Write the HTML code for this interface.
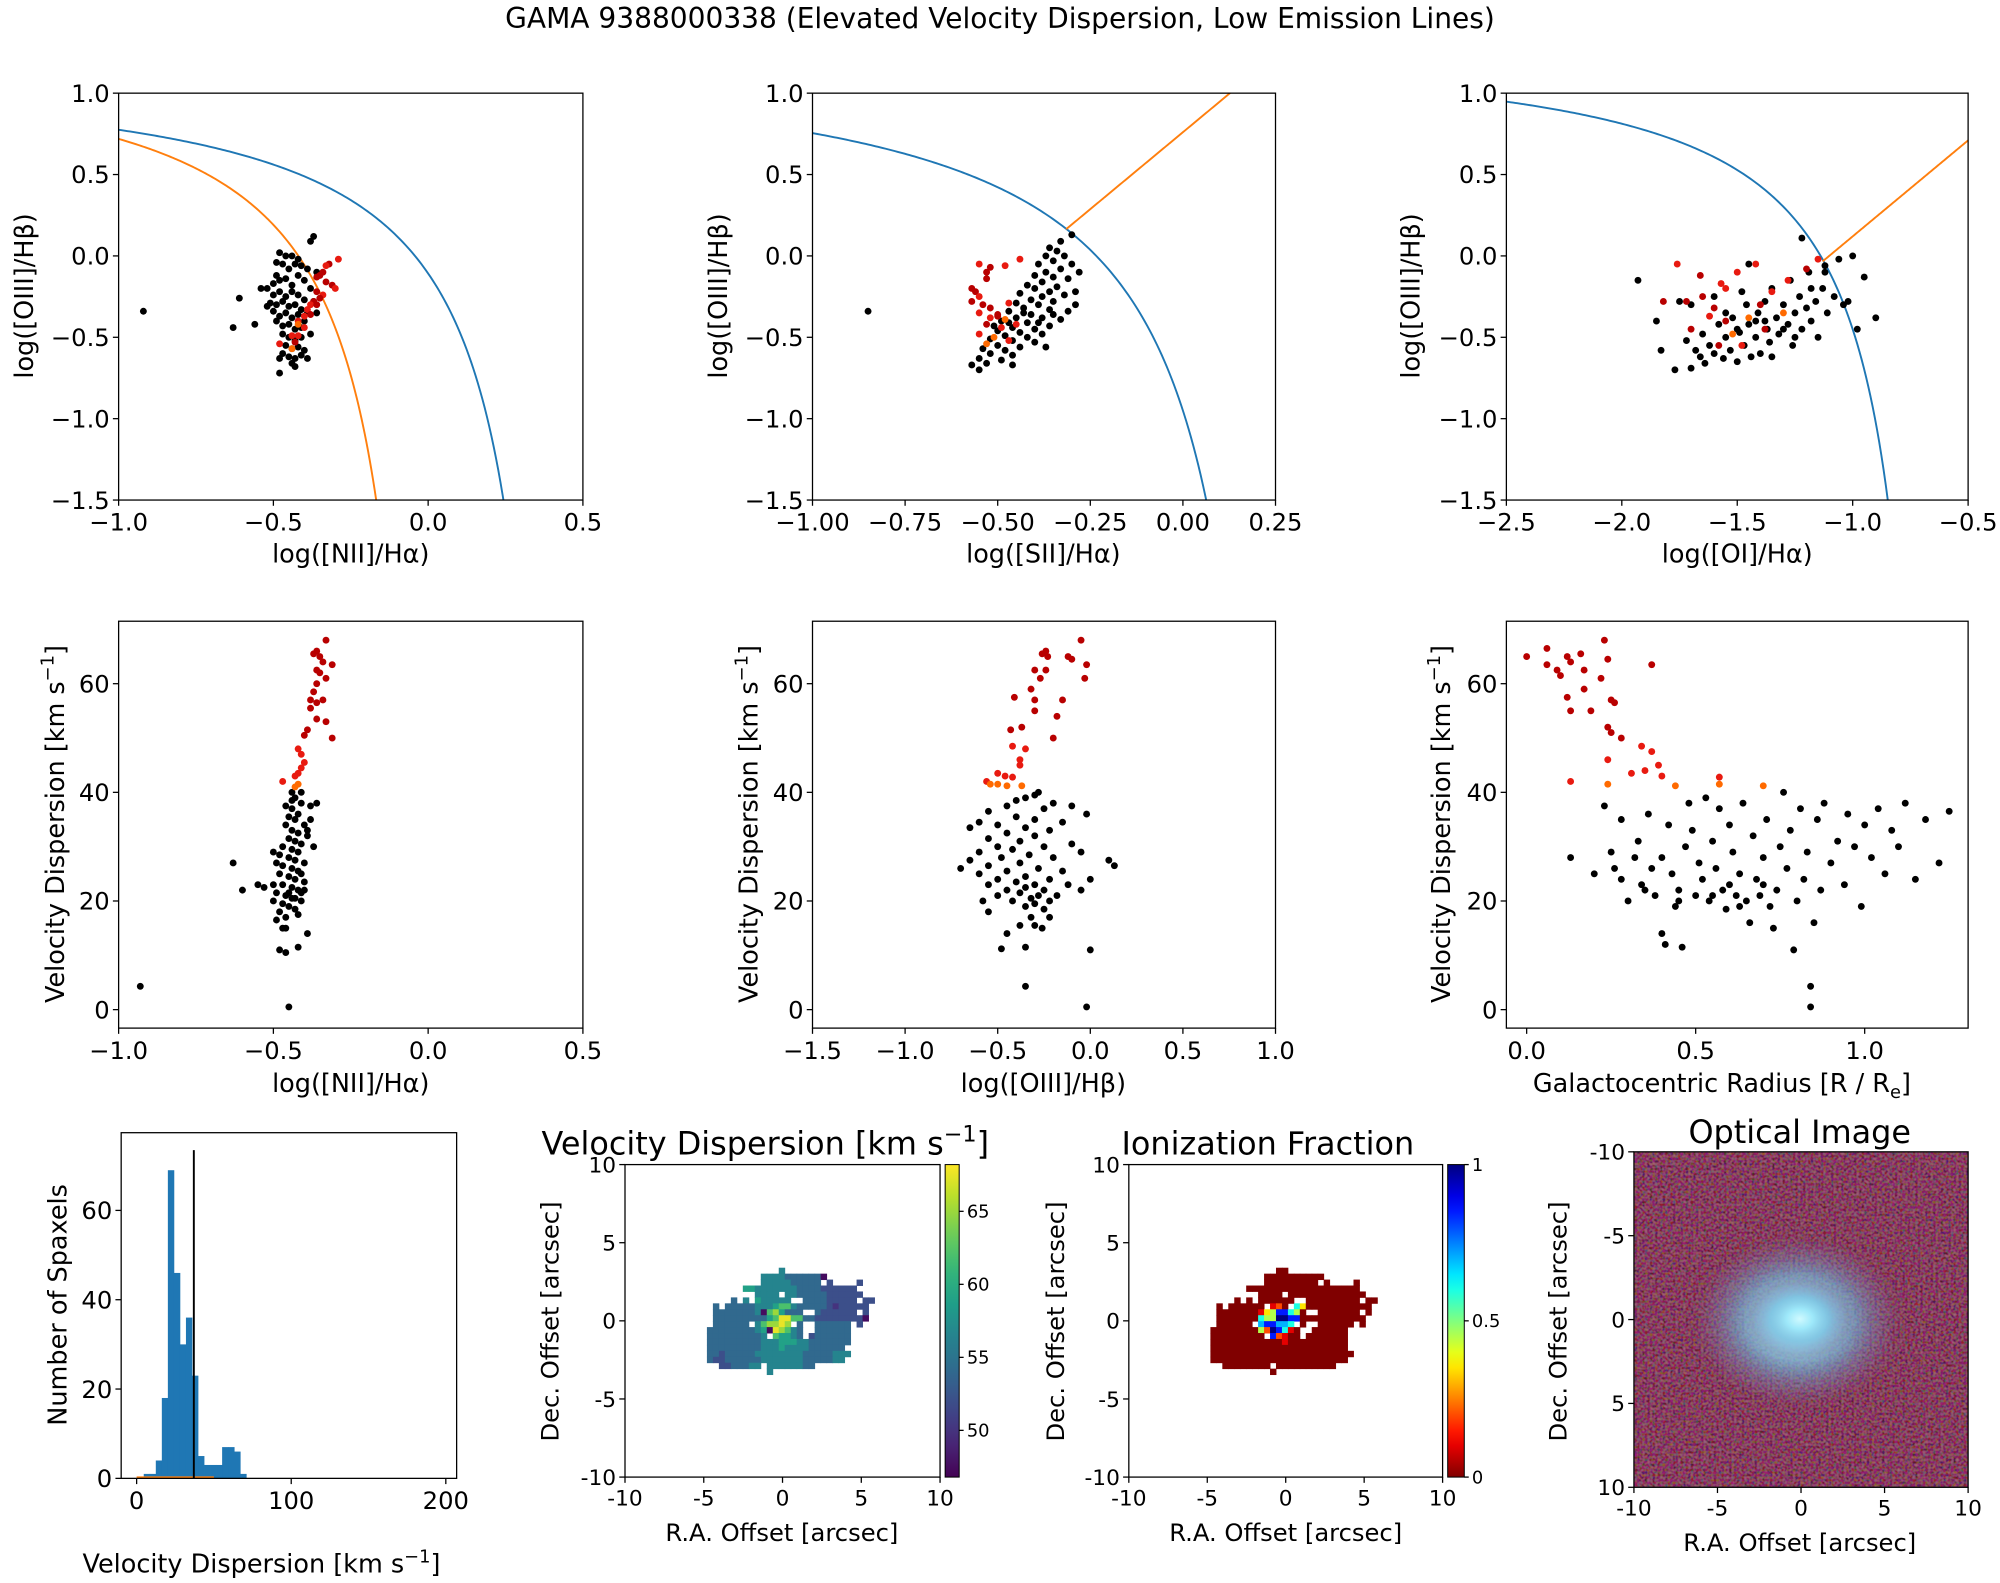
<!DOCTYPE html>
<html><head><meta charset="utf-8"><title>GAMA 9388000338</title>
<style>
html,body{margin:0;padding:0;background:#fff;width:2000px;height:1583px;overflow:hidden;}
svg{display:block;font-family:"DejaVu Sans","Liberation Sans",sans-serif;}
</style></head>
<body>
<svg id="fig" xmlns="http://www.w3.org/2000/svg" width="2000" height="1583" viewBox="0 0 1568 1241">
<defs>
<filter id="noise" x="0" y="0" width="100%" height="100%">
<feTurbulence type="fractalNoise" baseFrequency="0.5" numOctaves="1" seed="3" result="t"/>
<feColorMatrix in="t" type="matrix" values="1.4 0 0 0 -0.4  0 1.2 0 0 -0.5  0 0 1.4 0 -0.45  0 0 0 0 0.4"/>
</filter>
<radialGradient id="galaxy" cx="0.5" cy="0.5" r="0.5">
<stop offset="0" stop-color="#d0faff" stop-opacity="1"/>
<stop offset="0.25" stop-color="#9ce8fa" stop-opacity="0.95"/>
<stop offset="0.55" stop-color="#70b4d8" stop-opacity="0.6"/>
<stop offset="0.8" stop-color="#7a7fae" stop-opacity="0.25"/>
<stop offset="1" stop-color="#7a3040" stop-opacity="0"/>
</radialGradient>
</defs>
<text x="784" y="22" font-size="22" text-anchor="middle">GAMA 9388000338 (Elevated Velocity Dispersion, Low Emission Lines)</text>
</svg>
<script>
// ---------- DATA ----------
const niiBlackX=[-0.48,-0.46,-0.44,-0.38,-0.37,-0.42,-0.47,-0.49,-0.45,-0.41,-0.39,-0.36,-0.48,-0.5,-0.46,-0.44,-0.42,-0.4,-0.38,-0.52,-0.5,-0.48,-0.46,-0.44,-0.42,-0.4,-0.51,-0.49,-0.47,-0.45,-0.43,-0.41,-0.39,-0.5,-0.48,-0.46,-0.44,-0.42,-0.4,-0.49,-0.47,-0.45,-0.43,-0.41,-0.38,-0.47,-0.45,-0.43,-0.41,-0.46,-0.44,-0.42,-0.4,-0.47,-0.45,-0.43,-0.41,-0.44,-0.43,-0.48,-0.48,-0.39,-0.92,-0.63,-0.61,-0.56,-0.54,-0.52,-0.49,-0.43,-0.37,-0.36];
const niiBlackY=[0.02,0.0,0.0,0.09,0.12,-0.02,-0.05,-0.04,-0.08,-0.06,-0.08,-0.1,-0.15,-0.17,-0.14,-0.18,-0.12,-0.15,-0.2,-0.2,-0.24,-0.22,-0.25,-0.22,-0.24,-0.27,-0.29,-0.3,-0.28,-0.31,-0.3,-0.33,-0.35,-0.34,-0.37,-0.35,-0.38,-0.36,-0.4,-0.4,-0.43,-0.42,-0.45,-0.44,-0.48,-0.48,-0.5,-0.52,-0.5,-0.55,-0.57,-0.56,-0.58,-0.6,-0.62,-0.63,-0.61,-0.66,-0.68,-0.63,-0.72,-0.63,-0.34,-0.44,-0.26,-0.42,-0.2,-0.31,-0.12,-0.05,-0.28,-0.35];
const niiRedX=[-0.29,-0.32,-0.33,-0.34,-0.36,-0.35,-0.33,-0.31,-0.3,-0.36,-0.34,-0.35,-0.37,-0.38,-0.36,-0.39,-0.38,-0.4,-0.42,-0.42,-0.4,-0.42,-0.44,-0.48,-0.43,-0.44];
const niiRedY=[-0.02,-0.05,-0.06,-0.1,-0.13,-0.12,-0.16,-0.18,-0.2,-0.22,-0.24,-0.26,-0.28,-0.3,-0.3,-0.33,-0.36,-0.37,-0.4,-0.42,-0.44,-0.49,-0.49,-0.54,-0.53,-0.57];
const niiRedShade="rdrdddddrdrddrdrdrrorrrrdo";

const siiBlackX=[-0.3,-0.33,-0.36,-0.34,-0.37,-0.32,-0.35,-0.39,-0.3,-0.33,-0.37,-0.4,-0.35,-0.31,-0.38,-0.42,-0.34,-0.4,-0.36,-0.44,-0.32,-0.38,-0.41,-0.35,-0.45,-0.39,-0.43,-0.36,-0.31,-0.47,-0.41,-0.38,-0.45,-0.33,-0.49,-0.42,-0.36,-0.46,-0.4,-0.5,-0.44,-0.38,-0.48,-0.42,-0.52,-0.46,-0.4,-0.5,-0.44,-0.54,-0.48,-0.37,-0.52,-0.46,-0.55,-0.49,-0.53,-0.57,-0.55,-0.46,-0.28,-0.29,-0.29,-0.85,-0.51,-0.43,-0.47,-0.39,-0.35];
const siiBlackY=[0.13,0.09,0.05,0.03,0.0,0.0,-0.03,-0.05,-0.05,-0.08,-0.1,-0.12,-0.13,-0.14,-0.16,-0.18,-0.19,-0.2,-0.22,-0.23,-0.24,-0.25,-0.27,-0.28,-0.29,-0.3,-0.32,-0.33,-0.34,-0.34,-0.36,-0.38,-0.38,-0.39,-0.4,-0.41,-0.43,-0.44,-0.45,-0.46,-0.47,-0.48,-0.49,-0.5,-0.51,-0.52,-0.53,-0.55,-0.56,-0.57,-0.58,-0.56,-0.6,-0.61,-0.63,-0.64,-0.66,-0.67,-0.7,-0.67,-0.1,-0.22,-0.3,-0.34,-0.43,-0.35,-0.41,-0.41,-0.36];
const siiRedX=[-0.55,-0.52,-0.48,-0.44,-0.53,-0.53,-0.57,-0.56,-0.55,-0.57,-0.54,-0.52,-0.55,-0.5,-0.52,-0.48,-0.53,-0.49,-0.55,-0.51,-0.47,-0.53,-0.5,-0.47,-0.45];
const siiRedY=[-0.05,-0.07,-0.06,-0.02,-0.1,-0.14,-0.2,-0.22,-0.25,-0.28,-0.3,-0.32,-0.35,-0.36,-0.38,-0.39,-0.42,-0.44,-0.48,-0.5,-0.52,-0.54,-0.37,-0.29,-0.42];
const siiRedShade="rdrrddddrdddrdrodrrorodrr";

const oiBlackX=[-1.93,-1.85,-1.83,-1.77,-1.75,-1.72,-1.7,-1.68,-1.66,-1.64,-1.62,-1.6,-1.58,-1.56,-1.55,-1.53,-1.52,-1.5,-1.49,-1.47,-1.46,-1.45,-1.44,-1.42,-1.41,-1.4,-1.38,-1.37,-1.36,-1.35,-1.33,-1.32,-1.3,-1.28,-1.27,-1.26,-1.25,-1.23,-1.22,-1.2,-1.19,-1.18,-1.16,-1.15,-1.13,-1.12,-1.11,-1.08,-1.06,-1.04,-1.02,-1.0,-0.98,-0.95,-0.9,-1.22,-1.12,-1.45,-1.6,-1.48,-1.35,-1.65,-1.42,-1.3,-1.55,-1.25,-1.38,-1.5,-1.18,-1.7];
const oiBlackY=[-0.15,-0.4,-0.58,-0.7,-0.28,-0.52,-0.69,-0.58,-0.62,-0.66,-0.55,-0.6,-0.42,-0.63,-0.5,-0.58,-0.38,-0.65,-0.47,-0.55,-0.3,-0.42,-0.62,-0.5,-0.35,-0.6,-0.28,-0.45,-0.53,-0.2,-0.38,-0.48,-0.3,-0.42,-0.15,-0.55,-0.35,-0.25,-0.45,-0.32,-0.1,-0.4,-0.28,-0.5,-0.2,-0.06,-0.35,-0.25,-0.02,-0.3,-0.28,0.0,-0.45,-0.13,-0.38,0.11,-0.1,-0.05,-0.25,-0.22,-0.62,-0.48,-0.4,-0.45,-0.35,-0.5,-0.4,-0.45,-0.2,-0.3];
const oiRedX=[-1.76,-1.66,-1.57,-1.5,-1.42,-1.72,-1.65,-1.6,-1.55,-1.7,-1.62,-1.52,-1.58,-1.48,-1.45,-1.4,-1.35,-1.28,-1.2,-1.15,-1.38,-1.55,-1.82,-1.3];
const oiRedY=[-0.05,-0.12,-0.17,-0.1,-0.05,-0.28,-0.25,-0.32,-0.2,-0.45,-0.37,-0.48,-0.55,-0.55,-0.38,-0.3,-0.22,-0.15,-0.08,-0.02,-0.45,-0.4,-0.28,-0.35];
const oiRedShade="rdrrrdddrdrodrodrrdrdddo";

const sigNiiBlackX=[-0.44,-0.43,-0.41,-0.46,-0.44,-0.42,-0.38,-0.45,-0.43,-0.4,-0.46,-0.44,-0.42,-0.45,-0.43,-0.41,-0.47,-0.44,-0.42,-0.48,-0.45,-0.43,-0.4,-0.47,-0.44,-0.42,-0.48,-0.45,-0.43,-0.4,-0.47,-0.44,-0.42,-0.49,-0.46,-0.44,-0.41,-0.47,-0.45,-0.43,-0.48,-0.46,-0.42,-0.49,-0.47,-0.46,-0.39,-0.48,-0.46,-0.42,-0.37,-0.38,-0.39,-0.4,-0.41,-0.5,-0.5,-0.53,-0.55,-0.63,-0.6,-0.93,-0.45,-0.36,-0.39,-0.41,-0.49,-0.5,-0.44,-0.45,-0.43,-0.41];
const sigNiiBlackY=[40,39,38,37.5,37,36,37.5,35.5,35,34,34,33,32.5,31.5,31,30.5,30,29.5,29,28.5,28,27.5,27,26.5,26,25.5,25,24.5,24,23.5,23,22.5,22,21.5,21,20.5,20,19.5,19,18.5,18,17,17.5,16.5,15,15,14,11,10.5,11.5,30,35,33,22,25,20,23,22.5,23,27,22,4.3,0.5,38,32,40,27,29,38.5,21.5,20.5,21.5];
const sigNiiRedX=[-0.33,-0.36,-0.35,-0.37,-0.34,-0.31,-0.36,-0.35,-0.33,-0.36,-0.37,-0.38,-0.36,-0.34,-0.38,-0.36,-0.33,-0.39,-0.4,-0.31,-0.42,-0.41,-0.4,-0.41,-0.42,-0.43,-0.47,-0.43,-0.42];
const sigNiiRedY=[68,66,65,65.5,64,63.5,62.5,62,61,60,58.5,57,56.5,57,55.5,53.5,53,51.5,50.5,50,48,47,45.5,44.5,43.5,43,42,41,41.5];

const sigOiiiBlackX=[-0.28,-0.3,-0.35,-0.4,-0.2,-0.45,-0.1,-0.25,-0.55,-0.02,-0.4,-0.3,-0.6,-0.15,-0.5,-0.35,-0.65,-0.22,-0.45,-0.3,-0.55,-0.38,-0.1,-0.5,-0.25,-0.42,-0.6,-0.05,-0.33,-0.48,-0.2,-0.65,0.1,-0.38,-0.55,0.13,-0.28,-0.7,-0.45,-0.15,-0.6,-0.35,-0.5,-0.22,0.0,-0.4,-0.3,-0.55,-0.12,-0.35,-0.45,-0.25,-0.05,-0.38,-0.28,-0.18,-0.5,-0.32,-0.22,-0.42,-0.3,-0.58,-0.35,-0.25,-0.55,-0.32,-0.22,-0.38,-0.3,-0.26,-0.45,-0.48,-0.35,0.0,-0.35,-0.02];
const sigOiiiBlackY=[40,39.5,39,38.5,38,37.5,37.5,37,36.5,36,35.5,35,34.5,34.5,34,33.5,33.5,33,32.5,32,31.5,31,30.5,30,30,29.5,29,29,28.5,28,28,27.5,27.5,27,26.5,26.5,26,26,25.5,25.5,25,24.5,24,24,24,23.5,23,23,23,22.5,22,22,22,21.5,21,21,21,20.5,20,20,19.5,20,19,18.5,18,17,17,15.5,15.5,15,14,11.2,11.5,11,4.3,0.5];
const sigOiiiRedX=[-0.05,-0.24,-0.26,-0.23,-0.12,-0.1,-0.02,-0.3,-0.24,-0.27,-0.03,-0.32,-0.41,-0.15,-0.3,-0.3,-0.18,-0.43,-0.37,-0.2,-0.42,-0.35,-0.38,-0.38,-0.5,-0.46,-0.42,-0.56,-0.5,-0.45,-0.37,-0.54];
const sigOiiiRedY=[68,66,65.5,65,65,64.5,63.5,62.5,62.5,61,61,59,57.5,57,57,55,54,51.5,52,50,48.5,48,46,45,43.5,43,42.8,42,41.5,41.2,41.2,41.5];

const radBlackX=[0.13,0.2,0.23,0.25,0.26,0.28,0.28,0.3,0.32,0.33,0.34,0.36,0.37,0.38,0.4,0.4,0.41,0.42,0.43,0.44,0.45,0.46,0.47,0.48,0.49,0.5,0.51,0.52,0.53,0.54,0.55,0.56,0.57,0.58,0.59,0.6,0.61,0.62,0.63,0.64,0.65,0.66,0.67,0.68,0.69,0.7,0.71,0.72,0.73,0.74,0.75,0.76,0.77,0.78,0.79,0.8,0.81,0.82,0.83,0.84,0.84,0.85,0.86,0.87,0.88,0.9,0.92,0.94,0.95,0.97,0.99,1.0,1.02,1.04,1.06,1.08,1.1,1.12,1.15,1.18,1.22,1.25,0.55,0.6,0.63,0.45,0.7,0.35];
const radBlackY=[28,25,37.5,29,26,35,24,20,28,31,23,36,26,21,28,14,12,34,25,19,22,11.5,30,38,33,21,27,24,39,20,31,26,37,22,18.5,34,29,21,25,38,20,16,32,24,21,28,35,19,15,22,30,40,26,33,11,20,37,24,29,4.3,0.5,16,35,22,38,27,31,23,36,30,19,34,28,37,25,33,30,38,24,35,27,36.5,21,23,19,20,23,22];
const radRedX=[0.0,0.06,0.06,0.09,0.1,0.12,0.13,0.16,0.17,0.17,0.12,0.13,0.19,0.23,0.22,0.24,0.25,0.26,0.24,0.25,0.28,0.34,0.37,0.37,0.39,0.24,0.31,0.4,0.35,0.44,0.57,0.57,0.7,0.13,0.24];
const radRedY=[65,66.5,63.5,62.5,61.5,65,64,65.5,62.5,59,57.5,55,55,68,61,64.5,57,56.5,52,51,50,48.5,63.5,47.5,45,46,43.5,43,44,41.2,42.8,41.5,41.2,42,41.5];

const histEdges=[4.6,8.5,12.4,16.3,20.2,24.1,28.0,31.9,35.8,39.7,43.6,47.5,51.4,55.3,59.2,63.1,67.0,70.9];
const histCounts=[1,1,4,18,69,46,30,36,23,5,3,3,3,7,7,6,1];
const histMarker=[37];

const velCodes="pabcdefgh";
const velCodeValues=[47.5,50,52,54,56.5,59,62,65,67.5];
const velRows=[
"............d..............",
".........ddddccccccp.......",
".........dddddccccc.b....b.",
"......eedddddddccccbbbbbb..",
"........dddd.ddcccccbbbbbb.",
"....c.d.eddddd..ccccbbbbb.bb",
".c.cccccdddeffdcccccbabbbbb",
".cccccccdpfgeccc..cbbbbbb.b",
".cccccccccefhhffccbbbbbbbbp",
".cccccc.dfgghg.c..cccccc.b.",
"ccccccccdephgfdc..cccccc...",
"cccccccccd.feedc.bcccccc...",
"cccccccccdddeeeddccccccc...",
"cccccccccdddeddddcccccc....",
"ccbcccccddddddddcccccddd...",
"cbbccccccdddddddcccccdd....",
"..bbcccdd.ddddddcc.........",
"..........d................"];
const ionCodes="rROYGCLBN";
const ionCodeValues=[0,0.1,0.2,0.35,0.45,0.6,0.7,0.85,1.0];
const ionRows=[
"...........rr..............",
".........rrrrrrrrrr........",
".........rrrrrrrrr.r....r..",
"......rrrrrrrrrrrrrrrrrrr..",
"........rrrr.rrrrrrrrrrrrr.",
"....r.r.rrrrrr..rrrrrrrrr.rr",
".r.rrrrrr.ROr.CYrrrrrrrrrrr",
".rrrrrrrRYGBBCGr..rrrrrrr.r",
".rrrrrrrCGGNNBBrrrrrrrrrrr",
".rrrrrr.LBBLLC.r..rrrrrr.r.",
"rrrrrrrrGONBCRr..rrrrrr...",
"rrrrrrrrr.BORrr.rrrrrrr...",
"rrrrrrrrrrrrRrrrrrrrrrr...",
"rrrrrrrrrrrrrrrrrrrrrrr....",
"rrrrrrrrrrrrrrrrrrrrrrrr...",
"rrrrrrrrrrrrrrrrrrrrrrr....",
"..rrrrrrrr.rrrrrrrrrr......",
"..........r................"];
const mapGridX0=-4.8, mapGridY0=3.4, mapCell=0.38;

// ---------- HELPERS ----------
const NS="http://www.w3.org/2000/svg";
const svg=document.getElementById('fig');
function mk(tag,attrs,parent){const e=document.createElementNS(NS,tag);for(const k in attrs)e.setAttribute(k,attrs[k]);(parent||svg).appendChild(e);return e;}
const SHADE={d:'#b80000',r:'#e81a10',o:'#ff6a00'};
let clipId=0;
function axes(pre,x0,y0,x1,y1,xmin,xmax,ymin,ymax,xt,xl,yt,yl,fs){
  const g=mk('g',{});
  
  
  const sx=v=>x0+(v-xmin)/(xmax-xmin)*(x1-x0);
  const sy=v=>y1-(v-ymin)/(ymax-ymin)*(y1-y0);
  const cid='clip'+(clipId++);
  const cp=mk('clipPath',{id:cid},g);mk('rect',{x:x0,y:y0,width:x1-x0,height:y1-y0},cp);
  const plot=mk('g',{'clip-path':'url(#'+cid+')'},g);
  
  
  const xg=mk('g',{},g);
  
  
  xt.forEach((v,i)=>{const X=sx(v);mk('line',{x1:X,x2:X,y1:y1,y2:y1+4.5,stroke:'#000','stroke-width':1},xg);
    const t=mk('text',{x:X,y:y1+6+fs*0.95,'font-size':fs,'text-anchor':'middle'},xg);t.textContent=xl[i];});
  const yg=mk('g',{},g);
  
  
  yt.forEach((v,i)=>{const Y=sy(v);mk('line',{x1:x0-4.5,x2:x0,y1:Y,y2:Y,stroke:'#000','stroke-width':1},yg);
    const t=mk('text',{x:x0-7,y:Y+fs*0.36,'font-size':fs,'text-anchor':'end'},yg);t.textContent=yl[i];});
  const fr=mk('rect',{x:x0,y:y0,width:x1-x0,height:y1-y0,fill:'none',stroke:'#000','stroke-width':1},g);
  
  
  return {sx,sy,plot,g,fr};
}
function label(txt,x,y,fs,rot,name,sup,after){
  const t=mk('text',{x:x,y:y,'font-size':fs,'text-anchor':'middle'});
  if(rot)t.setAttribute('transform','rotate(-90 '+x+' '+y+')');
  
  
  t.appendChild(document.createTextNode(txt));
  if(sup){const s=mk('tspan',{'font-size':fs*0.7,dy:sup.dy},t);s.textContent=sup.t;
    const a=mk('tspan',{dy:-sup.dy},t);a.textContent=after;}
  return t;
}
function scatter(ax,xs,ys,color,shade,pre){
  const g=mk('g',{},ax.plot);
  
  
  xs.forEach((v,i)=>{
    const c=shade?(SHADE[shade[i]]||SHADE.r):color;
    const p=mk('circle',{cx:ax.sx(v),cy:ax.sy(ys[i]),r:2.7,fill:c},g);
    
    
  });
}
function curve(ax,f,a,b,color,name){
  let d='';const n=200;
  for(let i=0;i<=n;i++){const x=a+(b-a)*i/n;const y=f(x);d+=(i?'L':'M')+ax.sx(x).toFixed(2)+' '+ax.sy(y).toFixed(2);}
  const p=mk('path',{d:d,fill:'none',stroke:color,'stroke-width':1.5},ax.plot);
  
  
}
const BLUE='#1f77b4',ORANGE='#ff7f0e';
const M='\u2212';
const yT1=[-1.5,-1,-0.5,0,0.5,1],yL1=[M+'1.5',M+'1.0',M+'0.5','0.0','0.5','1.0'];

// ---------- ROW 1 ----------
let a=axes('bpt-nii',93,73,457,392,-1,0.5,-1.5,1,[-1,-0.5,0,0.5],[M+'1.0',M+'0.5','0.0','0.5'],yT1,yL1,19);
curve(a,x=>0.61/(x-0.47)+1.19,-1,0.46,BLUE,'kewley-line-nii');
curve(a,x=>0.61/(x-0.05)+1.3,-1,0.04,ORANGE,'kauffmann-line-nii');
scatter(a,niiBlackX,niiBlackY,'#000',null,'nii-spaxels');
scatter(a,niiRedX,niiRedY,null,niiRedShade,'nii-high-dispersion-spaxels');
label('log([NII]/H\u03b1)',275,441,20,false,'x-axis-title-nii');
label('log([OIII]/H\u03b2)',26,232,20,true,'y-axis-title-nii');

a=axes('bpt-sii',637,73,1000,392,-1,0.25,-1.5,1,[-1,-0.75,-0.5,-0.25,0,0.25],[M+'1.00',M+'0.75',M+'0.50',M+'0.25','0.00','0.25'],yT1,yL1,19);
curve(a,x=>0.72/(x-0.32)+1.30,-1,0.31,BLUE,'kewley-line-sii');
curve(a,x=>1.89*x+0.76,-0.315,0.25,ORANGE,'seyfert-liner-line-sii');
scatter(a,siiBlackX,siiBlackY,'#000',null,'sii-spaxels');
scatter(a,siiRedX,siiRedY,null,siiRedShade,'sii-high-dispersion-spaxels');
label('log([SII]/H\u03b1)',818,441,20,false,'x-axis-title-sii');
label('log([OIII]/H\u03b2)',570,232,20,true,'y-axis-title-sii');

a=axes('bpt-oi',1181,73,1543,392,-2.5,-0.5,-1.5,1,[-2.5,-2,-1.5,-1,-0.5],[M+'2.5',M+'2.0',M+'1.5',M+'1.0',M+'0.5'],yT1,yL1,19);
curve(a,x=>0.73/(x+0.59)+1.33,-2.5,-0.6,BLUE,'kewley-line-oi');
curve(a,x=>1.18*x+1.30,-1.13,-0.5,ORANGE,'seyfert-liner-line-oi');
scatter(a,oiBlackX,oiBlackY,'#000',null,'oi-spaxels');
scatter(a,oiRedX,oiRedY,null,oiRedShade,'oi-high-dispersion-spaxels');
label('log([OI]/H\u03b1)',1362,441,20,false,'x-axis-title-oi');
label('log([OIII]/H\u03b2)',1113,232,20,true,'y-axis-title-oi');

// ---------- ROW 2 ----------
const yT2=[0,20,40,60],yL2=['0','20','40','60'];
function sigShade(ys){return ys.map(v=>v<41.8?'o':(v<50?'r':'d')).join('');}
a=axes('sigma-nii',93,487,457,806,-1,0.5,-3.4,71.5,[-1,-0.5,0,0.5],[M+'1.0',M+'0.5','0.0','0.5'],yT2,yL2,19);
scatter(a,sigNiiBlackX,sigNiiBlackY,'#000',null,'sigma-nii-spaxels');
scatter(a,sigNiiRedX,sigNiiRedY,null,sigShade(sigNiiRedY),'sigma-nii-high-spaxels');
label('log([NII]/H\u03b1)',275,856,20,false,'x-axis-title-sigma-nii');
label('Velocity Dispersion [km s',50,646,20,true,'y-axis-title-sigma-nii',{t:M+'1',dy:-8},']');

a=axes('sigma-oiii',637,487,1000,806,-1.5,1,-3.4,71.5,[-1.5,-1,-0.5,0,0.5,1],[M+'1.5',M+'1.0',M+'0.5','0.0','0.5','1.0'],yT2,yL2,19);
scatter(a,sigOiiiBlackX,sigOiiiBlackY,'#000',null,'sigma-oiii-spaxels');
scatter(a,sigOiiiRedX,sigOiiiRedY,null,sigShade(sigOiiiRedY),'sigma-oiii-high-spaxels');
label('log([OIII]/H\u03b2)',818,856,20,false,'x-axis-title-sigma-oiii');
label('Velocity Dispersion [km s',594,646,20,true,'y-axis-title-sigma-oiii',{t:M+'1',dy:-8},']');

a=axes('sigma-radius',1181,487,1543,806,-0.06,1.306,-3.4,71.5,[0,0.5,1],['0.0','0.5','1.0'],yT2,yL2,19);
scatter(a,radBlackX,radBlackY,'#000',null,'sigma-radius-spaxels');
scatter(a,radRedX,radRedY,null,sigShade(radRedY),'sigma-radius-high-spaxels');
label('Galactocentric Radius [R / R',1350,856,20,false,'x-axis-title-radius',{t:'e',dy:5},']');
label('Velocity Dispersion [km s',1137,646,20,true,'y-axis-title-sigma-radius',{t:M+'1',dy:-8},']');

// ---------- ROW 3: histogram ----------
a=axes('histogram',95,888,358,1159,-10,207,0,77.4,[0,100,200],['0','100','200'],[0,20,40,60],['0','20','40','60'],19);
histCounts.forEach((c,i)=>{
  const X0=a.sx(histEdges[i]),X1=a.sx(histEdges[i+1]);
  const b=mk('rect',{x:X0,y:a.sy(c),width:X1-X0+0.3,height:a.sy(0)-a.sy(c),fill:BLUE},a.plot);
  
  
});
{const o=mk('line',{x1:a.sx(0),x2:a.sx(50),y1:a.sy(0)-0.8,y2:a.sy(0)-0.8,stroke:ORANGE,'stroke-width':1.5},a.plot);


const v=mk('line',{x1:a.sx(histMarker[0]),x2:a.sx(histMarker[0]),y1:a.sy(0),y2:a.sy(73.5),stroke:'#000','stroke-width':1.5},a.plot);

}
label('Velocity Dispersion [km s',205,1233,20,false,'x-axis-title-histogram',{t:M+'1',dy:-8},']');
label('Number of Spaxels',52,1023,20,true,'y-axis-title-histogram');

// ---------- maps ----------
function viridis(t){const s=[[68,1,84],[72,40,120],[62,73,137],[49,104,142],[38,130,142],[31,158,137],[53,183,121],[109,205,89],[180,222,44],[253,231,37]];
  t=Math.max(0,Math.min(1,t));const f=t*(s.length-1),i=Math.min(s.length-2,Math.floor(f)),u=f-i;
  return 'rgb('+s[i].map((c,k)=>Math.round(c+(s[i+1][k]-c)*u)).join(',')+')';}
function jet(t){t=Math.max(0,Math.min(1,t));
  const r=Math.min(1,Math.max(0,1.5-Math.abs(4*t-3))),g=Math.min(1,Math.max(0,1.5-Math.abs(4*t-2))),b=Math.min(1,Math.max(0,1.5-Math.abs(4*t-1)));
  return 'rgb('+[r,g,b].map(v=>Math.round(v*255)).join(',')+')';}
const mT=[-10,-5,0,5,10],mL=['-10','-5','0','5','10'];
function drawMap(ax,rows,codes,vals,colorFn,pre){
  const g=mk('g',{},ax.plot);
  
  
  rows.forEach((row,r)=>{for(let c=0;c<row.length;c++){const k=codes.indexOf(row[c]);if(k<0)continue;
    const xa=mapGridX0+c*mapCell,ya=mapGridY0-r*mapCell;
    const X0=ax.sx(xa),X1=ax.sx(xa+mapCell),Y0=ax.sy(ya),Y1=ax.sy(ya-mapCell);
    const p=mk('rect',{x:X0,y:Y0,width:X1-X0+0.35,height:Y1-Y0+0.35,fill:colorFn(vals[k])},g);
    
    }});
}
function colorbar(x0,y0,x1,y1,vmin,vmax,ticks,labels,colorFn,name){
  const id=name+'-grad';
  const lg=mk('linearGradient',{id:id,x1:0,y1:1,x2:0,y2:0});
  for(let i=0;i<=20;i++){mk('stop',{offset:i/20,'stop-color':colorFn(i/20)},lg);}
  const r=mk('rect',{x:x0,y:y0,width:x1-x0,height:y1-y0,fill:'url(#'+id+')',stroke:'#000','stroke-width':0.8});
  
  
  ticks.forEach((v,i)=>{const Y=y1-(v-vmin)/(vmax-vmin)*(y1-y0);
    mk('line',{x1:x1,x2:x1+3.5,y1:Y,y2:Y,stroke:'#000','stroke-width':1});
    const t=mk('text',{x:x1+6,y:Y+5,'font-size':14});t.textContent=labels[i];
    
    });
}
a=axes('velocity-map',490,913,737,1158,-10,10,-10,10,mT,mL,mT,mL,17);
const vMin=46.8,vMax=68.2;
drawMap(a,velRows,velCodes,velCodeValues,v=>viridis((v-vMin)/(vMax-vMin)),'velocity-map');
colorbar(741,913,752,1158,vMin,vMax,[50,55,60,65],['50','55','60','65'],viridis,'velocity-colorbar');
label('Velocity Dispersion [km s',600,905,25,false,'velocity-map-title',{t:M+'1',dy:-10},']');
label('R.A. Offset [arcsec]',613,1208,19,false,'x-axis-title-velocity-map');
label('Dec. Offset [arcsec]',438,1036,19,true,'y-axis-title-velocity-map');

a=axes('ionization-map',885,913,1131,1158,-10,10,-10,10,mT,mL,mT,mL,17);
drawMap(a,ionRows,ionCodes,ionCodeValues,v=>jet(1-v),'ionization-map');
colorbar(1135,913,1148,1158,0,1,[0,0.5,1],['0','0.5','1'],t=>jet(1-t),'ionization-colorbar');
label('Ionization Fraction',994,905,25,false,'ionization-map-title');
label('R.A. Offset [arcsec]',1008,1208,19,false,'x-axis-title-ionization-map');
label('Dec. Offset [arcsec]',834,1036,19,true,'y-axis-title-ionization-map');

// optical image (Dec axis inverted: -10 at top)
a=axes('optical-image',1281,903,1543,1166,-10,10,10,-10,mT,mL,mT,mL,17);
{const bg=mk('rect',{x:1281,y:903,width:262,height:263,fill:'#7e3246'},a.plot);


const nz=mk('rect',{x:1281,y:903,width:262,height:263,fill:'#fff',filter:'url(#noise)'},a.plot);


const halo=mk('ellipse',{cx:1409,cy:1036,rx:88,ry:72,fill:'url(#galaxy)'},a.plot);


const core=mk('ellipse',{cx:1411,cy:1034,rx:42,ry:32,fill:'url(#galaxy)'},a.plot);


a.g.appendChild(a.fr);}
label('Optical Image',1411,896,25,false,'optical-image-title');
label('R.A. Offset [arcsec]',1411,1216,19,false,'x-axis-title-optical');
label('Dec. Offset [arcsec]',1228,1036,19,true,'y-axis-title-optical');
</script>
</body></html>
